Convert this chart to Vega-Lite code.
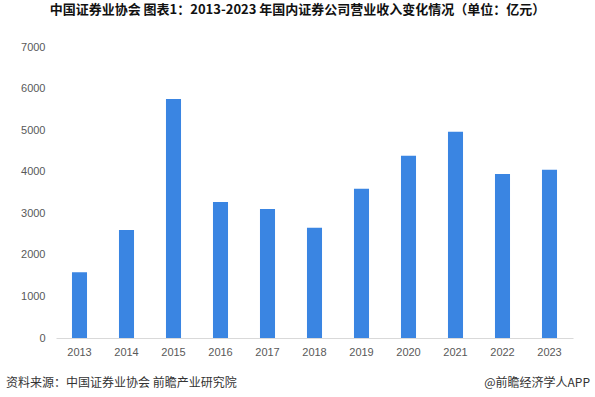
{
  "$schema": "https://vega.github.io/schema/vega-lite/v6.json",
  "width": 517,
  "height": 291,
  "autosize": "none",
  "padding": {"left": 56, "top": 47, "right": 22, "bottom": 59},
  "background": "white",
  "config": {
    "view": {"stroke": null},
    "font": "Noto Sans CJK SC"
  },
  "title": {
    "text": "中国证券业协会  图表1：2013-2023 年国内证券公司营业收入变化情况（单位：亿元）",
    "font": "Noto Sans CJK SC",
    "fontSize": 13,
    "fontWeight": "bold",
    "color": "#111111",
    "anchor": "middle",
    "offset": 24,
    "dx": -17
  },
  "data": {
    "values": [
      {"year": "2013", "revenue": 1583},
      {"year": "2014", "revenue": 2595},
      {"year": "2015", "revenue": 5752},
      {"year": "2016", "revenue": 3270},
      {"year": "2017", "revenue": 3101},
      {"year": "2018", "revenue": 2651},
      {"year": "2019", "revenue": 3590},
      {"year": "2020", "revenue": 4386},
      {"year": "2021", "revenue": 4964},
      {"year": "2022", "revenue": 3944},
      {"year": "2023", "revenue": 4048}
    ]
  },
  "layer": [
    {
      "mark": {"type": "bar", "color": "#3a85e2"},
      "encoding": {
        "x": {
          "field": "year",
          "type": "ordinal",
          "scale": {"paddingInner": 0.68, "paddingOuter": 0.34},
          "axis": {
            "title": null,
            "labelAngle": 0,
            "labelFontSize": 11,
            "labelColor": "#595959",
            "labelFont": "Liberation Sans",
            "ticks": false,
            "labelPadding": 8,
            "domainColor": "#d9d9d9",
            "domainWidth": 1
          }
        },
        "y": {
          "field": "revenue",
          "type": "quantitative",
          "scale": {"domain": [0, 7000], "nice": false},
          "axis": {
            "title": null,
            "format": "d",
            "values": [0, 1000, 2000, 3000, 4000, 5000, 6000, 7000],
            "grid": false,
            "domain": false,
            "ticks": false,
            "labelPadding": 11,
            "labelFontSize": 11,
            "labelColor": "#595959",
            "labelFont": "Liberation Sans"
          }
        }
      }
    },
    {
      "data": {"values": [{"t": "资料来源：中国证券业协会 前瞻产业研究院"}]},
      "mark": {"type": "text", "align": "left", "baseline": "middle", "fontSize": 12, "color": "#333333", "font": "Noto Sans CJK SC"},
      "encoding": {
        "text": {"field": "t"},
        "x": {"value": -50},
        "y": {"value": 336}
      }
    },
    {
      "data": {"values": [{"t": "@前瞻经济学人APP"}]},
      "mark": {"type": "text", "align": "right", "baseline": "middle", "fontSize": 12, "color": "#333333", "font": "Noto Sans CJK SC"},
      "encoding": {
        "text": {"field": "t"},
        "x": {"value": 534},
        "y": {"value": 336}
      }
    }
  ]
}
